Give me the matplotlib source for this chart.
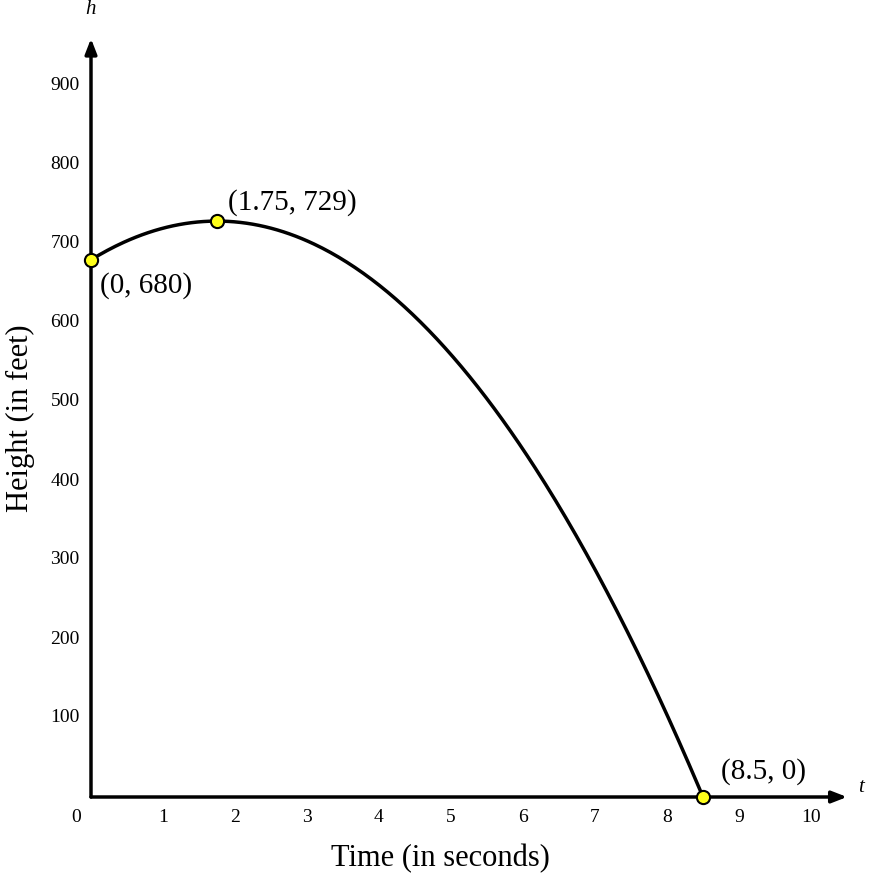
import numpy as np
import matplotlib.pyplot as plt

# h(t) = a t^2 + b t + c
coef_a, coef_b, coef_c = -16, 56, 680
t_end = 8.5
pts_t = [0, 1.75, 8.5]
pts_h = [680, 729, 0]
pt_labels = ['(0, 680)', '(1.75, 729)', '(8.5, 0)']
x_ticks = list(range(1, 11))
y_ticks = list(range(100, 1000, 100))

plt.rcParams['font.family'] = ['Liberation Serif', 'DejaVu Serif']
fig = plt.figure(figsize=(8.78, 8.96), dpi=100)
W, H = 878, 896
ox, oy = 91, 797
xpx, ypx = 72.0, 0.79
xmax, ymax = 10.6, 960
ax = fig.add_axes([ox / W, (H - oy) / H, xmax * xpx / W, ymax * ypx / H])
ax.set_xlim(0, xmax)
ax.set_ylim(0, ymax)
ax.axis('off')

t = np.linspace(0, t_end, 300)
ax.plot(t, coef_a * t**2 + coef_b * t + coef_c, color='black', lw=2.5, clip_on=False)

arrow = dict(arrowstyle='-|>,head_length=0.9,head_width=0.35', color='black', lw=2.5, shrinkA=0, shrinkB=0)
ax.annotate('', xy=(10.5, 0), xytext=(0, 0), arrowprops=arrow, annotation_clip=False)
ax.annotate('', xy=(0, 960), xytext=(0, 0), arrowprops=arrow, annotation_clip=False)
ax.text(10.65, 0, 't', style='italic', fontsize=15, va='bottom', ha='left')
ax.text(0, 985, 'h', style='italic', fontsize=15, va='bottom', ha='center')

ax.scatter(pts_t, pts_h, s=90, color='#ffff1a', edgecolor='black', lw=1.5, zorder=5, clip_on=False)
ax.text(0.12, 665, pt_labels[0], fontsize=21, va='top', ha='left')
ax.text(1.9, 735, pt_labels[1], fontsize=21, va='bottom', ha='left')
ax.text(8.75, 15, pt_labels[2], fontsize=21, va='bottom', ha='left')

for v in x_ticks:
    ax.text(v, -15, str(v), fontsize=14, ha='center', va='top')
ax.text(-0.2, -15, '0', fontsize=14, ha='center', va='top')
for v in y_ticks:
    ax.text(-0.36, v, str(v), fontsize=14, ha='center', va='center')

ax.text(4.85, -78, 'Time (in seconds)', fontsize=22, ha='center', va='center')
ax.text(-0.98, 480, 'Height (in feet)', fontsize=22, ha='center', va='center', rotation=90)

fig.savefig('out.png', dpi=100)
